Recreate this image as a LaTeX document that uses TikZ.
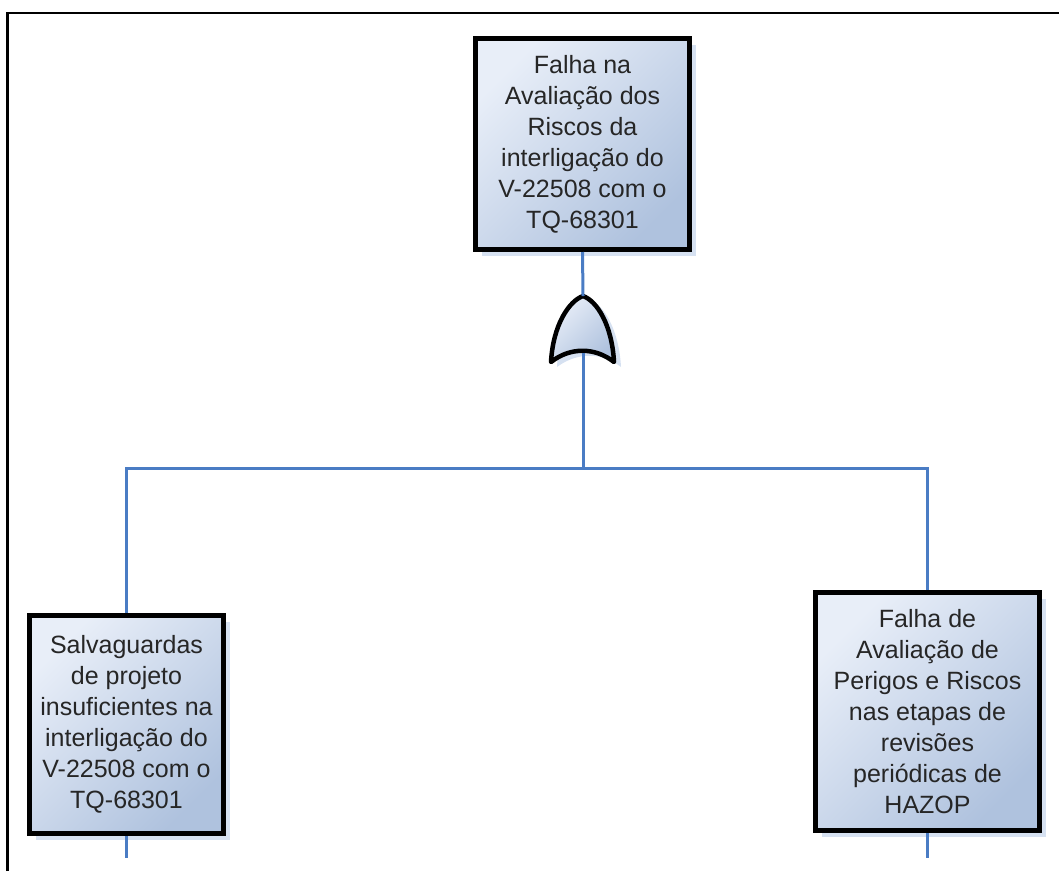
\documentclass[tikz,border=0pt]{standalone}
\usepackage{fontspec}
\setmainfont{Liberation Sans}
\usetikzlibrary{shadows}
\definecolor{fillhi}{HTML}{E8EEF8}
\definecolor{filllo}{HTML}{AFC2DE}
\definecolor{shadowc}{HTML}{D6E1F1}
\definecolor{wire}{HTML}{4A7CC4}
\definecolor{ink}{HTML}{262626}
\begin{document}
\begin{tikzpicture}[x=1pt,y=-1pt,
  event/.style={draw=black, line width=5pt, rectangle,
    top color=fillhi, bottom color=filllo, shading angle=45,
    general shadow={fill=shadowc, shadow xshift=6pt, shadow yshift=-6pt},
    align=center, text=ink, inner sep=0pt,
    font=\fontsize{25}{31}\selectfont},
  wireline/.style={draw=wire, line width=3pt},
  gatestyle/.style={draw=black, line width=4.5pt, line join=round,
    top color=fillhi, bottom color=filllo, shading angle=45}
]
\useasboundingbox (0,0) rectangle (1059,871);
% open frame: top and left edges only
\draw[line width=2.6pt] (7.5,871) -- (7.5,13) -- (1059,13);

% events
\node[event, minimum width=214pt, minimum height=211pt] (top) at (582.5,144)
  {Falha na\\Avaliação dos\\Riscos da\\interligação do\\V-22508 com o\\TQ-68301};
\node[event, minimum width=194pt, minimum height=218pt] (left) at (126.5,724.5)
  {Salvaguardas\\de projeto\\insuficientes na\\interligação do\\V-22508 com o\\TQ-68301};
\node[event, minimum width=224pt, minimum height=238pt] (right) at (927.5,711.5)
  {Falha de\\Avaliação de\\Perigos e Riscos\\nas etapas de\\revisões\\periódicas de\\HAZOP};

% OR gate
\coordinate (gtop) at (583,296);
\coordinate (gbot) at (583,353);
\coordinate (bus) at (583,468);
\fill[shadowc] (590,300) .. controls (604,305) and (619,330) .. (621,367)
  .. controls (602,352) and (577,352) .. (557,367)
  .. controls (559,330) and (576,305) .. (590,300) -- cycle;
\path[gatestyle] (583,296) .. controls (597,301) and (612,325) .. (614,362)
  .. controls (595,347) and (570,347) .. (551,362)
  .. controls (553,325) and (569,301) .. (583,296) -- cycle;

% connectors
\draw[wireline] (top.south) -- (gtop);
\draw[wireline] (gbot) -- (bus);
\draw[wireline] (left.north) |- (bus) -| (right.north);
\coordinate (lend) at (126.5,858);
\coordinate (rend) at (927.5,858);
\draw[wireline] (left.south) -- (lend);
\draw[wireline] (right.south) -- (rend);
\end{tikzpicture}
\end{document}
